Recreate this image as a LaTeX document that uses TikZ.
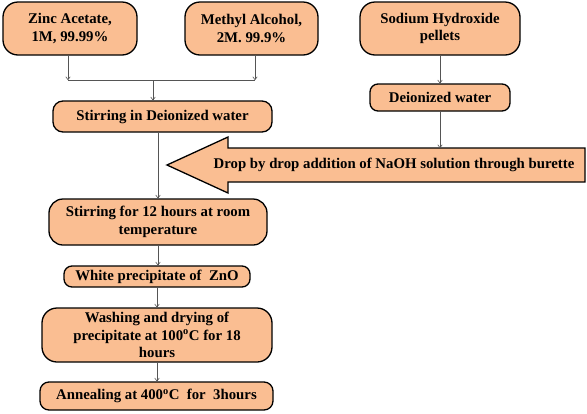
\documentclass[tikz,border=0pt]{standalone}
\usepackage{fontspec}
\setmainfont{Liberation Serif}[BoldFont={Liberation Serif Bold},ItalicFont={Liberation Serif Italic}]
\usetikzlibrary{arrows.meta,calc}
\definecolor{peach}{RGB}{250,190,146}
\definecolor{lin}{RGB}{85,85,85}
\tikzset{
  txt/.style={font=\fontsize{14.8}{17.5}\selectfont\bfseries},
  box/.style={draw=black,line width=1.3pt,fill=peach,rounded corners=#1,inner sep=1pt,
    txt,align=center},
  box/.default=10pt,
  conn/.style={draw=lin,line width=0.6pt,-{To[length=3.5pt,width=5pt]}},
  plain/.style={draw=lin,line width=0.6pt}
}
\begin{document}
\begin{tikzpicture}[x=1pt,y=-1pt]
\useasboundingbox (0,0) rectangle (587,413);
\node[box=15pt,minimum width=134pt,minimum height=53pt] (zinc) at (70,28.5) {Zinc Acetate,\\1M, 99.99\%};
\node[box=15pt,minimum width=133pt,minimum height=53pt] (meth) at (251.5,28.5) {Methyl Alcohol,\\2M. 99.9\%};
\node[box=15pt,minimum width=160pt,minimum height=53pt] (sod) at (440,28.5) {Sodium Hydroxide\\pellets};
\node[box=10pt,minimum width=219pt,minimum height=31pt] (stir1) at (162.5,116.5) {Stirring in Deionized water};
\node[box=8pt,minimum width=140pt,minimum height=27pt] (deion) at (440,97.5) {Deionized water};
\node[box=14pt,minimum width=218pt,minimum height=46pt] (stir2) at (158,222) {Stirring for 12 hours at room\\temperature};
\node[box=8pt,minimum width=186pt,minimum height=21pt] (white) at (157,276.5) {White precipitate of\ \ ZnO};
\node[box=15pt,minimum width=230pt,minimum height=54pt] (wash) at (157,335) {Washing and drying of\\precipitate at 100\textsuperscript{o}C for 18\\hours};
\node[box=9pt,minimum width=233pt,minimum height=28pt] (ann) at (156.5,396) {Annealing at 400\textsuperscript{o}C\ \ for\ \ 3hours};
% big arrow
\draw[line width=1.3pt,fill=peach] (167,165) -- (228,137) -- (228,148) -- (585,148) -- (585,182) -- (228,182) -- (228,193) -- cycle;
\node[txt,inner sep=0pt] (drop) at (394,165) {Drop by drop addition of NaOH solution through burette};
\coordinate (droptop) at (440,148);
\coordinate (join) at (153,80);
% connectors
\draw[conn] (zinc.south -| 68,0) -- (68,80);
\draw[conn] (meth.south -| 255,0) -- (255,80);
\draw[plain] (68,80) -- (255,80);
\draw[conn] (join) -- (join |- stir1.north);
\draw[conn] (stir2.north |- stir1.south) -- (stir2.north);
\draw[conn] (sod.south) -- (deion.north);
\draw[conn] (deion.south) -- (droptop);
\draw[conn] (stir2.south) -- (stir2.south |- white.north);
\draw[conn] (white.south) -- (white.south |- wash.north);
\draw[conn] (wash.south) -- (wash.south |- ann.north);
\end{tikzpicture}
\end{document}
